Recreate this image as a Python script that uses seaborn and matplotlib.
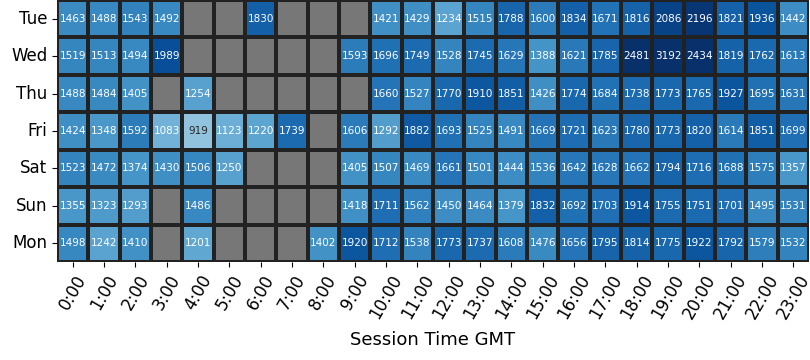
import numpy as np
import pandas as pd
import matplotlib
matplotlib.use("Agg")
import matplotlib.pyplot as plt
import seaborn as sns

nan = np.nan

days = ["Tue", "Wed", "Thu", "Fri", "Sat", "Sun", "Mon"]
hours = [f"{h}:00" for h in range(24)]

tue = [1463, 1488, 1543, 1492, nan, nan, 1830, nan, nan, nan, 1421, 1429,
       1234, 1515, 1788, 1600, 1834, 1671, 1816, 2086, 2196, 1821, 1936, 1442]
wed = [1519, 1513, 1494, 1989, nan, nan, nan, nan, nan, 1593, 1696, 1749,
       1528, 1745, 1629, 1388, 1621, 1785, 2481, 3192, 2434, 1819, 1762, 1613]
thu = [1488, 1484, 1405, nan, 1254, nan, nan, nan, nan, nan, 1660, 1527,
       1770, 1910, 1851, 1426, 1774, 1684, 1738, 1773, 1765, 1927, 1695, 1631]
fri = [1424, 1348, 1592, 1083, 919, 1123, 1220, 1739, nan, 1606, 1292, 1882,
       1693, 1525, 1491, 1669, 1721, 1623, 1780, 1773, 1820, 1614, 1851, 1699]
sat = [1523, 1472, 1374, 1430, 1506, 1250, nan, nan, nan, 1405, 1507, 1469,
       1661, 1501, 1444, 1536, 1642, 1628, 1662, 1794, 1716, 1688, 1575, 1357]
sun = [1355, 1323, 1293, nan, 1486, nan, nan, nan, nan, 1418, 1711, 1562,
       1450, 1464, 1379, 1832, 1692, 1703, 1914, 1755, 1751, 1701, 1495, 1531]
mon = [1498, 1242, 1410, nan, 1201, nan, nan, nan, 1402, 1920, 1712, 1538,
       1773, 1737, 1608, 1476, 1656, 1795, 1814, 1775, 1922, 1792, 1579, 1532]

df = pd.DataFrame([tue, wed, thu, fri, sat, sun, mon], index=days, columns=hours)

fig = plt.figure(figsize=(8.1, 3.6), dpi=100)
ax = fig.add_axes([57 / 810, 1 - 262 / 360, 752 / 810, 262 / 360])
ax.set_facecolor("#777777")  # missing sessions show as grey

sns.heatmap(df, ax=ax, cmap="Blues", vmin=0, vmax=2250, annot=True, fmt=".0f",
            annot_kws={"fontsize": 7.5}, linewidths=1.5, linecolor="#222222",
            cbar=False)

ax.set_xticklabels(hours, rotation=60, fontsize=12)
ax.set_yticklabels(days, rotation=0, fontsize=12)
ax.set_xlabel("Session Time GMT", fontsize=13, labelpad=6)
ax.set_ylabel("")

fig.savefig("out.png", dpi=100)
